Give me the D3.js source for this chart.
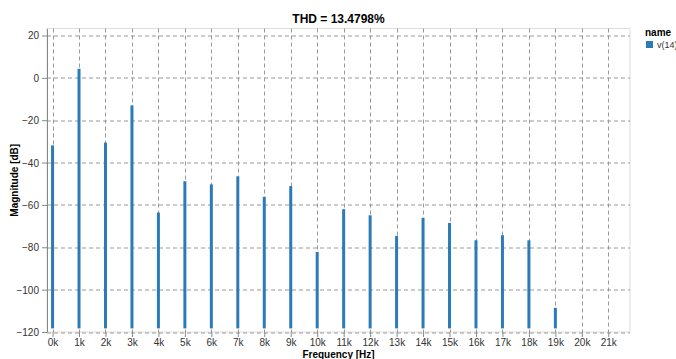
<!DOCTYPE html>
<html>
<head>
<meta charset="utf-8">
<script src="https://cdn.jsdelivr.net/npm/d3@7"></script>
<style>
  body { margin: 0; background: #fff; font-family: "Liberation Sans", Arial, sans-serif; }
  .axis text { font-size: 10px; fill: #333; }
  .axis line { stroke: #888; }
  .axis .domain { stroke: #888; }
  .grid line { stroke: #999; stroke-dasharray: 4,3; }
</style>
</head>
<body>
<svg id="chart"></svg>
<script>
// harmonic frequencies in kHz and magnitudes in dB
const freqs = [0, 1, 2, 3, 4, 5, 6, 7, 8, 9, 10, 11, 12, 13, 14, 15, 16, 17, 18, 19];
const magnitudes = [-31.9, 4.3, -30.6, -13.0, -63.6, -48.8, -50.3, -46.5, -56.2, -51.1,
                    -82.2, -62.0, -64.9, -74.6, -66.1, -68.5, -76.7, -74.3, -76.7, -108.6];
const xTicks = d3.range(0, 22);
const yTicks = [-120, -100, -80, -60, -40, -20, 0, 20];
const seriesName = 'v(14)';
const barFloor = -118.3;

const config = {
    width: 676,
    height: 359,
    margin: { top: 28.5, right: 46, bottom: 27, left: 47 },
    color: '#2c7bb9'
};

const innerW = config.width - config.margin.left - config.margin.right;
const innerH = config.height - config.margin.top - config.margin.bottom;

const svg = d3.select('#chart')
    .attr('width', config.width)
    .attr('height', config.height);

const chart = svg.append('g')
    .attr('transform', `translate(${config.margin.left},${config.margin.top})`);

const xScale = d3.scaleLinear()
    .domain([-0.21, 21.82])
    .range([0, innerW]);

const yScale = d3.scaleLinear()
    .domain([-120, 23.3])
    .range([innerH, 0]);

// plot frame
chart.append('rect')
    .attr('width', innerW)
    .attr('height', innerH)
    .attr('fill', 'none')
    .attr('stroke', '#ddd');

// gridlines
chart.append('g')
    .attr('class', 'grid')
    .selectAll('line')
    .data(xTicks)
    .join('line')
    .attr('x1', d => Math.round(xScale(d)) + 0.5)
    .attr('x2', d => Math.round(xScale(d)) + 0.5)
    .attr('y1', 0)
    .attr('y2', innerH);

chart.append('g')
    .attr('class', 'grid')
    .selectAll('line')
    .data(yTicks)
    .join('line')
    .attr('x1', 0)
    .attr('x2', innerW)
    .attr('y1', d => Math.round(yScale(d)) + 0.5)
    .attr('y2', d => Math.round(yScale(d)) + 0.5);

// bars
chart.selectAll('.bar')
    .data(freqs)
    .join('rect')
    .attr('class', 'bar')
    .attr('x', d => xScale(d) - 1.5)
    .attr('width', 3)
    .attr('y', (d, i) => yScale(magnitudes[i]))
    .attr('height', (d, i) => yScale(barFloor) - yScale(magnitudes[i]))
    .attr('fill', config.color);

// axes
const xAxis = d3.axisBottom(xScale)
    .tickValues(xTicks)
    .tickFormat(d => d + 'k')
    .tickSize(5)
    .tickSizeOuter(0);

const yAxis = d3.axisLeft(yScale)
    .tickValues(yTicks)
    .tickFormat(d => d < 0 ? '\u2212' + Math.abs(d) : d)
    .tickSize(5)
    .tickSizeOuter(0);

chart.append('g')
    .attr('class', 'axis x-axis')
    .attr('transform', `translate(0,${innerH})`)
    .call(xAxis)
    .call(g => g.select('.domain').remove())
    .call(g => g.selectAll('.tick text').attr('y', 7).attr('dy', '0.71em'));

chart.append('g')
    .attr('class', 'axis y-axis')
    .call(yAxis)
    .call(g => g.selectAll('.tick text').attr('dy', '0.35em'));

// titles
svg.append('text')
    .attr('x', config.margin.left + innerW / 2)
    .attr('y', 23)
    .attr('text-anchor', 'middle')
    .attr('font-weight', 'bold')
    .attr('font-size', 12)
    .attr('fill', '#000')
    .text('THD = 13.4798%');

svg.append('text')
    .attr('x', config.margin.left + innerW / 2)
    .attr('y', 358)
    .attr('text-anchor', 'middle')
    .attr('font-weight', 'bold')
    .attr('font-size', 10)
    .attr('fill', '#000')
    .text('Frequency [Hz]');

svg.append('text')
    .attr('transform', `translate(18,${config.margin.top + innerH / 2}) rotate(-90)`)
    .attr('text-anchor', 'middle')
    .attr('font-weight', 'bold')
    .attr('font-size', 10)
    .attr('fill', '#000')
    .text('Magnitude [dB]');

// legend
const legend = svg.append('g')
    .attr('transform', 'translate(645,0)');

legend.append('text')
    .attr('x', 0)
    .attr('y', 36)
    .attr('font-weight', 'bold')
    .attr('font-size', 10)
    .attr('fill', '#000')
    .text('name');

legend.append('rect')
    .attr('x', 1)
    .attr('y', 41)
    .attr('width', 7)
    .attr('height', 7)
    .attr('fill', config.color);

legend.append('text')
    .attr('x', 12)
    .attr('y', 48)
    .attr('font-size', 9)
    .attr('fill', '#333')
    .text(seriesName);
</script>
</body>
</html>
